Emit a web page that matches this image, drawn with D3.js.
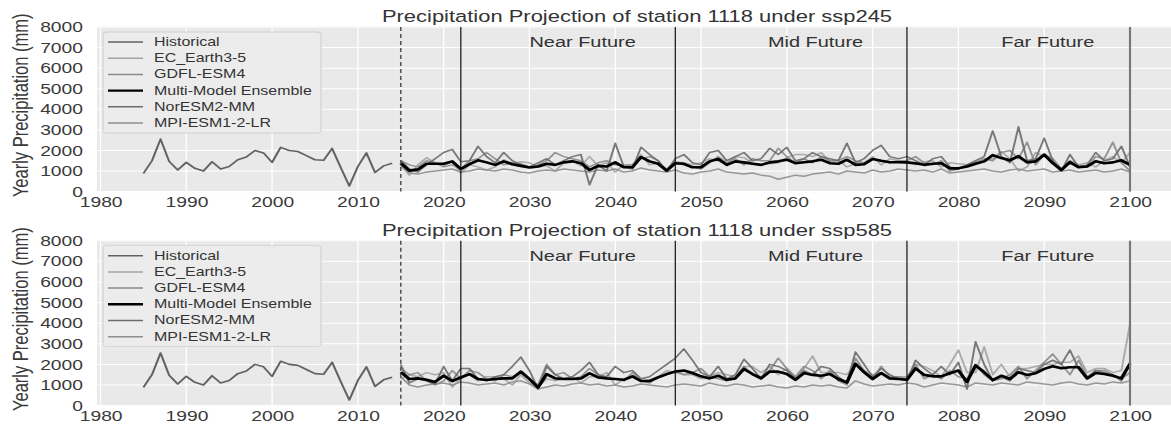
<!DOCTYPE html>
<html>
<head>
<meta charset="utf-8">
<script src="https://cdn.jsdelivr.net/npm/d3@7"></script>
<style>
body { margin: 0; background: #fff; }
svg { display: block; }
text { font-family: "Liberation Sans", Arial, sans-serif; }
</style>
</head>
<body>
<div id="chart"></div>
<script>
// yearly precipitation (mm), station 1118

const histYears = d3.range(1985, 2015)
const historical = [880, 1500, 2550, 1470, 1050, 1420, 1130, 1000, 1450, 1100,
    1220, 1550, 1680, 2000, 1880, 1420, 2150, 2000, 1950, 1750,
    1550, 1520, 2100, 1170, 270, 1220, 1880, 930, 1250, 1380]

const projYears = d3.range(2015, 2101)

// ---- ssp245 ----
const ec245 = [1300, 800, 1300, 1650, 1400, 1250, 1450, 900, 1300, 1200,
    1050, 1200, 1550, 1350, 1450, 1400, 1200, 1250, 1000, 1400,
    1500, 1250, 1700, 1250, 1400, 950, 1300, 1300, 1800, 1300,
    1400, 1100, 1450, 1400, 1300, 1400, 1600, 1500, 1350, 1700,
    1650, 1400, 1300, 1350, 1400, 1650, 1800, 1800, 1700, 1900,
    1450, 1550, 1200, 1350, 1400, 1700, 1300, 1600, 1500, 1400,
    1300, 1450, 1500, 1200, 1400, 1350, 1300, 1450, 1500, 1600,
    1950, 1600, 1000, 1200, 1900, 1700, 1450, 1100, 1400, 1300,
    1400, 1200, 1500, 1700, 1400, 1900]
const gdfl245 = [1500, 1300, 1200, 1500, 1400, 1200, 1300, 1100, 1500, 1600,
    1900, 1600, 1300, 1400, 1350, 1200, 1300, 1500, 1900, 1700,
    1600, 1500, 1200, 1400, 1500, 1300, 1250, 1300, 1600, 1700,
    1500, 1000, 1400, 1300, 1200, 1100, 1400, 1700, 1400, 1600,
    1300, 1600, 1500, 1500, 2100, 1700, 1400, 1600, 1400, 1700,
    1500, 1500, 1700, 1500, 1400, 1600, 1500, 1400, 1500, 1500,
    1700, 1400, 1300, 1500, 1000, 1100, 1300, 1400, 1600, 1500,
    1900, 2000, 1600, 2400, 1300, 1800, 1600, 1100, 1500, 1300,
    1200, 1700, 1600, 2400, 1400, 1000]
const mme245 = [1380, 1020, 1080, 1350, 1350, 1350, 1470, 1100, 1330, 1520,
    1420, 1300, 1470, 1330, 1250, 1170, 1220, 1350, 1300, 1420,
    1470, 1380, 1050, 1250, 1220, 1420, 1180, 1180, 1680, 1470,
    1350, 1020, 1380, 1350, 1180, 1180, 1470, 1580, 1300, 1470,
    1420, 1350, 1300, 1420, 1470, 1550, 1380, 1430, 1470, 1550,
    1380, 1350, 1550, 1300, 1330, 1580, 1500, 1430, 1430, 1420,
    1380, 1300, 1350, 1380, 1130, 1130, 1220, 1350, 1470, 1770,
    1630, 1520, 1720, 1420, 1470, 1800, 1380, 1050, 1430, 1180,
    1220, 1470, 1380, 1420, 1520, 1300]
const nor245 = [1500, 1100, 950, 1300, 1600, 1900, 2050, 1450, 1500, 2200,
    1700, 1400, 1900, 1500, 1300, 1200, 1400, 1600, 1300, 1500,
    1700, 1800, 330, 1300, 1000, 2350, 1200, 1100, 2150, 1800,
    1500, 1000, 1600, 1800, 1400, 1300, 1900, 2000, 1500, 1700,
    1900, 1500, 1600, 2100, 1800, 2150, 1500, 1600, 1900, 1700,
    1600, 1500, 2350, 1400, 1600, 2000, 2250, 1700, 1600, 1700,
    1500, 1300, 1600, 1700, 1200, 1100, 1300, 1500, 1700, 2950,
    1700, 1400, 3150, 1500, 1600, 2600, 1500, 1000, 1800, 1200,
    1300, 1900, 1500, 1600, 2200, 1200]
const mpi245 = [1250, 900, 850, 950, 1000, 1050, 1100, 950, 1000, 1100,
    1050, 1000, 1100, 1050, 950, 900, 1000, 1050, 1000, 1100,
    1050, 1000, 950, 1050, 1000, 1100, 950, 1000, 1150, 1050,
    1000, 950, 1050, 900, 850, 950, 1000, 1100, 950, 900,
    850, 900, 800, 750, 600, 700, 800, 750, 850, 900,
    950, 850, 1000, 950, 900, 1050, 950, 1000, 1100, 1050,
    1000, 1050, 950, 1100, 900, 950, 1000, 1050, 1100, 1000,
    950, 1050, 1100, 1000, 1050, 1100, 950, 1000, 1050, 950,
    1000, 1050, 950, 1000, 1100, 950]

// ---- ssp585 ----
const ec585 = [1300, 1500, 1400, 1600, 1500, 1600, 900, 1300, 1500, 1200,
    1400, 1400, 1300, 1000, 1500, 1100, 900, 1300, 1200, 1300,
    1400, 1100, 1400, 1400, 1600, 1000, 1300, 1400, 1200, 1250,
    1400, 1700, 1600, 1500, 1500, 1300, 1400, 1600, 1500, 1400,
    1900, 1900, 1600, 1900, 1500, 1800, 1300, 1800, 2400, 1600,
    1600, 1600, 1500, 2000, 1700, 1500, 1600, 1300, 1400, 1400,
    2000, 1900, 1700, 1400, 2000, 2700, 1600, 1600, 2850, 1500,
    2000, 1400, 1800, 1800, 1900, 2000, 2000, 2100, 2100, 2400,
    1600, 1800, 1800, 1600, 1700, 3950]
const gdfl585 = [1800, 1500, 1600, 1200, 1000, 1200, 1700, 1300, 1700, 1600,
    1300, 1200, 1500, 1400, 1600, 1300, 1000, 2000, 1500, 1600,
    1300, 1400, 1800, 1500, 1300, 1300, 1200, 1600, 1200, 1100,
    1400, 1500, 1700, 1500, 1600, 1800, 1400, 1300, 1200, 1300,
    1900, 1500, 1400, 1700, 2300, 1800, 1400, 1900, 1700, 1300,
    1700, 1200, 1000, 2300, 1700, 1300, 1900, 1400, 1400, 1300,
    2000, 1300, 1500, 1300, 1700, 1400, 1300, 2000, 1500, 1200,
    1300, 1500, 1900, 1300, 1700, 2100, 2500, 2000, 1500, 2200,
    1400, 1700, 1700, 1500, 1300, 1600]
const mme585 = [1620, 1290, 1320, 1250, 1150, 1450, 1190, 1370, 1530, 1290,
    1240, 1290, 1320, 1320, 1650, 1290, 880, 1530, 1320, 1290,
    1290, 1320, 1570, 1370, 1320, 1290, 1250, 1420, 1190, 1190,
    1370, 1530, 1650, 1700, 1580, 1420, 1320, 1450, 1250, 1320,
    1780, 1530, 1320, 1650, 1650, 1530, 1250, 1580, 1490, 1450,
    1530, 1290, 1120, 2030, 1620, 1290, 1580, 1320, 1290, 1250,
    1810, 1490, 1420, 1420, 1570, 1700, 1150, 1950, 1620, 1240,
    1450, 1290, 1620, 1490, 1570, 1780, 1910, 1810, 1860, 1860,
    1320, 1580, 1530, 1450, 1320, 2030]
const nor585 = [2000, 1100, 1300, 1200, 1050, 1900, 1200, 1800, 1800, 1300,
    1200, 1400, 1500, 1900, 2350, 1700, 800, 1900, 1500, 1300,
    1400, 1700, 2100, 1500, 1400, 1900, 1600, 1700, 1300, 1400,
    1700, 2000, 2300, 2750, 2200, 1600, 1400, 1900, 1300, 1500,
    2250, 1800, 1300, 2000, 1900, 1700, 1300, 1700, 1500, 1900,
    1800, 1400, 1100, 2600, 2000, 1400, 1800, 1500, 1300, 1200,
    2200, 1800, 1500, 1900, 1500, 2100, 800, 3100, 2000, 1200,
    1400, 1200, 1800, 1700, 1600, 2000, 2200, 2000, 2700, 1800,
    1300, 1700, 1600, 1500, 1200, 2100]
const mpi585 = [1400, 1000, 900, 1000, 1050, 1100, 1000, 1150, 1100, 1000,
    1050, 1100, 1000, 1150, 1200, 1050, 800, 900, 1000, 950,
    1050, 1100, 1000, 1050, 950, 1000, 900, 950, 1050, 1000,
    950, 900, 1000, 1050, 1000, 950, 1100, 1000, 950, 1050,
    1000, 900, 950, 1000, 900, 850, 950, 900, 1000, 950,
    1000, 900, 850, 1200, 1050, 950, 1000, 1050, 1000, 1100,
    1050, 900, 1000, 1100, 1050, 1000, 900, 1100, 1050, 1000,
    1100, 1050, 1000, 1150, 1100, 1050, 1000, 1100, 1150, 1050,
    1000, 1100, 1050, 1150, 1100, 1200]

const xTicks = [1980, 1990, 2000, 2010, 2020, 2030, 2040, 2050, 2060, 2070, 2080, 2090, 2100]
const yTicks = [0, 1000, 2000, 3000, 4000, 5000, 6000, 7000, 8000]
const periodLines = [2022, 2047, 2074]
const periodNames = ['Near Future', 'Mid Future', 'Far Future']
const periodLabelAt = [2030, 2057.8, 2085]
const legendNames = ['Historical', 'EC_Earth3-5', 'GDFL-ESM4', 'Multi-Model Ensemble', 'NorESM2-MM', 'MPI-ESM1-2-LR']
const scenarios = ['ssp245', 'ssp585']

// the picture is stretched sideways, so draw in narrow units and let the viewBox stretch it
const SX = 1.33
const W = 1171, H = 428
const px = v => v / SX

const styles = {
    'Historical': { color: '#626262', width: 1.6, op: 1 },
    'EC_Earth3-5': { color: '#a4a4a4', width: 1.5, op: 0.9 },
    'GDFL-ESM4': { color: '#8a8a8a', width: 1.5, op: 0.9 },
    'Multi-Model Ensemble': { color: '#000000', width: 2.6, op: 1 },
    'NorESM2-MM': { color: '#6c6c6c', width: 1.5, op: 0.9 },
    'MPI-ESM1-2-LR': { color: '#8e8e8e', width: 1.5, op: 0.9 }
}

const panels = [
    { top: 27, bottom: 191.6, scen: 'ssp245',
      series: { 'EC_Earth3-5': ec245, 'GDFL-ESM4': gdfl245, 'NorESM2-MM': nor245, 'MPI-ESM1-2-LR': mpi245, 'Multi-Model Ensemble': mme245 } },
    { top: 240.7, bottom: 405.6, scen: 'ssp585',
      series: { 'EC_Earth3-5': ec585, 'GDFL-ESM4': gdfl585, 'NorESM2-MM': nor585, 'MPI-ESM1-2-LR': mpi585, 'Multi-Model Ensemble': mme585 } }
]

const svg = d3.select('#chart').append('svg')
    .attr('width', W).attr('height', H)
    .attr('viewBox', `0 0 ${W / SX} ${H}`)
    .attr('preserveAspectRatio', 'none')

const x = d3.scaleLinear().domain([1980, 2100]).range([px(100.5), px(1130)])

panels.forEach((p, pi) => {
    const y = d3.scaleLinear().domain([0, 8000]).range([p.bottom, p.top])
    const g = svg.append('g').attr('class', 'panel')

    // plot background
    g.append('rect')
        .attr('x', px(97)).attr('y', p.top - 0.5)
        .attr('width', px(1185) - px(97)).attr('height', p.bottom - p.top + 1)
        .attr('fill', '#e9e9e9')

    // white grid
    g.selectAll('line.hgrid').data(yTicks).enter().append('line')
        .attr('class', 'hgrid')
        .attr('x1', px(97)).attr('x2', px(1185))
        .attr('y1', d => y(d)).attr('y2', d => y(d))
        .attr('stroke', '#fff').attr('stroke-width', 1)
    g.selectAll('line.vgrid').data(xTicks).enter().append('line')
        .attr('class', 'vgrid')
        .attr('x1', d => x(d)).attr('x2', d => x(d))
        .attr('y1', p.top).attr('y2', p.bottom)
        .attr('stroke', '#fff').attr('stroke-width', 1)

    // axes, labels only
    const ya = g.append('g').attr('transform', `translate(${px(97)},0)`)
        .call(d3.axisLeft(y).tickValues(yTicks).tickFormat(d3.format('d')).tickSize(0).tickPadding(px(14)))
    const xa = g.append('g').attr('transform', `translate(0,${p.bottom})`)
        .call(d3.axisBottom(x).tickValues(xTicks).tickFormat(d3.format('d')).tickSize(0).tickPadding(5.5))
    ;[ya, xa].forEach(a => {
        a.select('.domain').remove()
        a.selectAll('text').attr('font-size', 14.5).attr('fill', '#3a3a3a')
            .attr('font-family', '"Liberation Sans", Arial, sans-serif')
    })

    // y label
    g.append('text')
        .attr('transform', `translate(${px(27.5)},${(p.top + p.bottom) / 2 - 4}) rotate(-90)`)
        .attr('text-anchor', 'middle')
        .attr('font-size', 16.5).attr('fill', '#3a3a3a')
        .text('Yearly Precipitation (mm)')

    // title
    g.append('text')
        .attr('x', px(637)).attr('y', p.top - 5)
        .attr('text-anchor', 'middle')
        .attr('font-size', 16.5).attr('fill', '#333')
        .text('Precipitation Projection of station 1118 under ' + p.scen)

    const line = d3.line().x(d => x(d[0])).y(d => y(d[1]))

    // models, then the ensemble on top
    const order = ['EC_Earth3-5', 'MPI-ESM1-2-LR', 'GDFL-ESM4', 'NorESM2-MM', 'Multi-Model Ensemble']
    order.forEach(name => {
        const vals = p.series[name]
        const st = styles[name]
        g.append('path')
            .datum(projYears.map((yr, i) => [yr, vals[i]]))
            .attr('d', line)
            .attr('fill', 'none')
            .attr('stroke', st.color).attr('stroke-width', st.width)
            .attr('stroke-opacity', st.op)
            .attr('stroke-linejoin', 'round')
    })

    g.append('path')
        .datum(histYears.map((yr, i) => [yr, historical[i]]))
        .attr('d', line)
        .attr('fill', 'none')
        .attr('stroke', styles['Historical'].color).attr('stroke-width', styles['Historical'].width)
        .attr('stroke-linejoin', 'round')

    // period boundaries
    g.append('line')
        .attr('x1', x(2015)).attr('x2', x(2015)).attr('y1', p.top).attr('y2', p.bottom)
        .attr('stroke', '#555').attr('stroke-width', 1.2).attr('stroke-dasharray', '4,3')
    g.selectAll('line.period').data(periodLines).enter().append('line')
        .attr('class', 'period')
        .attr('x1', d => x(d)).attr('x2', d => x(d)).attr('y1', p.top).attr('y2', p.bottom)
        .attr('stroke', '#111').attr('stroke-width', 0.9)
    g.append('line')
        .attr('x1', x(2100)).attr('x2', x(2100)).attr('y1', p.top).attr('y2', p.bottom)
        .attr('stroke', '#777').attr('stroke-width', 1.6)

    g.selectAll('text.period').data(periodNames).enter().append('text')
        .attr('class', 'period')
        .attr('x', (d, i) => x(periodLabelAt[i]))
        .attr('y', p.top + 20.5)
        .attr('font-size', 15).attr('fill', '#333')
        .text(d => d)

    // legend
    const lg = g.append('g')
    lg.append('rect')
        .attr('x', px(103)).attr('y', p.top + 5)
        .attr('width', px(321) - px(103)).attr('height', 101)
        .attr('rx', 3)
        .attr('fill', '#ececec').attr('stroke', '#cfcfcf').attr('stroke-width', 0.8)
    legendNames.forEach((name, i) => {
        const cy = p.top + 15 + i * 16.2
        const st = styles[name]
        lg.append('line')
            .attr('x1', px(108)).attr('x2', px(143)).attr('y1', cy).attr('y2', cy)
            .attr('stroke', st.color).attr('stroke-width', name === 'Multi-Model Ensemble' ? 2.4 : 1.5)
        lg.append('text')
            .attr('x', px(154)).attr('y', cy + 4)
            .attr('font-size', 12).attr('fill', '#333')
            .text(name)
    })
})
</script>
</body>
</html>
